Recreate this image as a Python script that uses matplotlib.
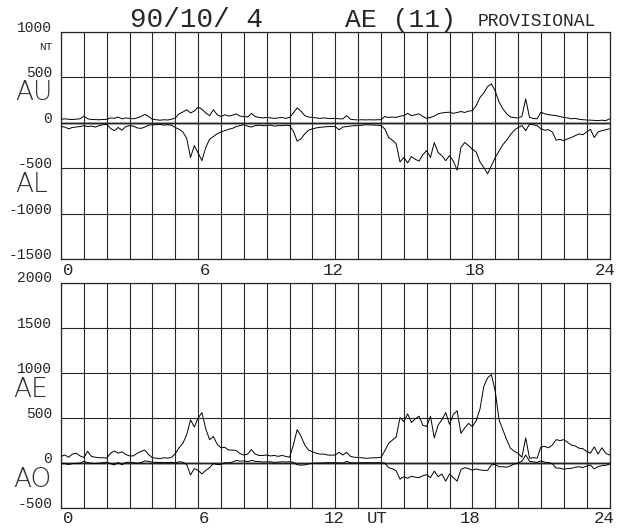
#!/usr/bin/env python
# -*- coding: utf-8 -*-
"""AE index plot (AU/AL and AE/AO), 1990-10-04, provisional."""

import numpy as np
import matplotlib
matplotlib.use('Agg')
import matplotlib.pyplot as plt
import matplotlib.transforms as mtransforms

# --- data, 10-minute samples from 00:00 to 24:00 UT (nT) ---
AU = [40, 45, 40, 38, 42, 45,
      75, 45, 38, 36, 35, 38,
      40, 55, 50, 65, 45, 55,
      50, 45, 55, 70, 95, 70,
      40, 35, 30, 35, 32, 40,
      55, 100, 120, 145, 110, 130,
      175, 150, 110, 80, 145, 90,
      70, 90, 75, 85, 100, 75,
      70, 65, 105, 70, 60, 55,
      60, 55, 50, 55, 60, 50,
      60, 110, 165, 130, 80, 65,
      60, 55, 50, 55, 50, 48,
      50, 45, 45, 80, 40, 35,
      33, 35, 33, 35, 33, 35,
      35, 70, 60, 65, 60, 75,
      80, 105, 80, 90, 100, 70,
      50, 60, 75, 100, 110, 115,
      118, 105, 115, 125, 115, 130,
      135, 190, 280, 330, 400, 430,
      350, 230, 155, 100, 65, 58,
      55, 70, 265, 60, 50, 45,
      118, 100, 90, 85, 80, 70,
      60, 55, 45, 50, 40, 35,
      33, 30, 28, 25, 30, 25,
      45]

AL = [-40, -45, -65, -50, -45, -40,
      -30, -40, -35, -45, -30, -20,
      -15, -60, -85, -50, -80, -40,
      -30, -35, -55, -60, -45, -25,
      -20, -20, -15, -25, -20, -25,
      -50, -70, -100, -170, -380, -250,
      -330, -415, -270, -180, -150, -120,
      -100, -85, -70, -60, -40, -30,
      -20, -35, -45, -30, -25, -30,
      -30, -25, -35, -30, -30, -25,
      -30, -90, -200, -175, -120, -80,
      -65, -55, -48, -45, -40, -40,
      -40, -75, -45, -40, -35, -30,
      -30, -25, -20, -22, -25, -25,
      -30, -65, -160, -190, -230, -430,
      -380, -440, -370, -400, -420, -350,
      -305, -380, -215, -325, -360, -415,
      -360, -420, -520, -270, -215, -250,
      -290, -320, -430, -490, -560, -470,
      -380, -310, -240, -190, -130, -80,
      -50, -30, -85, -15, -20, -30,
      -65, -80, -75, -100, -190, -180,
      -195, -175, -160, -140, -120, -130,
      -100, -70, -160, -100, -85, -75,
      -65]

AE = [75, 90, 65, 100, 110, 80,
      63, 130, 75, 65, 60, 60,
      55, 110, 135, 110, 125, 95,
      80, 80, 110, 130, 145, 95,
      60, 55, 50, 60, 55, 65,
      105, 170, 220, 315, 480, 400,
      500, 560, 380, 260, 295, 210,
      170, 175, 145, 145, 140, 105,
      90, 100, 150, 100, 85, 85,
      90, 80, 85, 75, 85, 75,
      65, 200, 370, 300, 200, 145,
      125, 110, 100, 100, 90, 88,
      90, 120, 90, 120, 75, 65,
      63, 60, 53, 57, 58, 60,
      65, 135, 220, 255, 290, 505,
      460, 545, 450, 490, 520, 420,
      405, 520, 280, 420, 480, 560,
      430, 540, 580, 330, 390, 440,
      405, 470, 600, 850, 945, 980,
      795, 480, 370, 260, 165, 130,
      110, 65, 280, 55, 60, 55,
      180, 185, 170, 200, 260, 250,
      260, 230, 200, 190, 165, 160,
      130, 110, 180, 100, 170, 110,
      90]

AO = [-5, -5, -15, -5, -2, 0,
      20, 5, 0, -5, 0, 5,
      10, -5, -20, 8, -18, 8,
      10, 5, 0, 5, 25, 20,
      10, 8, 8, 5, 6, 8,
      3, 15, 10, -15, -130, -60,
      -80, -120, -80, -50, -5, -15,
      -15, 5, 3, 12, 30, 22,
      25, 15, 30, 20, 18, 12,
      15, 15, 8, 12, 15, 12,
      15, 10, -18, -22, -20, -8,
      -2, 0, 1, 5, 5, 4,
      5, 3, 0, 20, 3, 2,
      2, 5, 6, 6, 4, 5,
      2, 2, -50, -62, -85, -178,
      -150, -168, -145, -155, -160, -140,
      -128, -160, -88, -150, -120, -200,
      -120, -160, -200, -70, -50, -60,
      -78, -65, -75, -80, -80, -20,
      -15, -40, -40, -45, -30, -10,
      2, 20, 90, 20, 15, 8,
      25, 10, 8, -8, -55, -55,
      -68, -60, -58, -45, -40, -48,
      -33, -20, -65, -38, -28, -25,
      -10]

hours = np.arange(len(AU)) / 6.0

upper_yticks = [1000, 500, 0, -500, -1000, -1500]
lower_yticks = [2000, 1500, 1000, 500, 0, -500]
hour_labels = ['0', '6', '12', '18', '24']
upper_label_x = [0.3, 6.3, 11.9, 18.1, 23.8]
lower_label_x = [0.3, 6.25, 11.95, 17.9, 23.75]

MONO = ['Liberation Mono', 'DejaVu Sans Mono']
INK = '#262626'
W, H = 631, 528


def style_panel(ax, ymin, ymax, yticks):
    ax.set_xlim(0, 24)
    ax.set_ylim(ymin, ymax)
    ax.set_xticks(range(25))
    ax.set_yticks(yticks)
    ax.grid(True, color=INK, lw=0.8)
    ax.axhline(0, color='#8a8a8a', lw=1.8, zorder=1.5)
    ax.tick_params(length=0, labelleft=False, labelbottom=False)
    for sp in ax.spines.values():
        sp.set_color(INK)
        sp.set_linewidth(0.9)
    # y labels sit on their grid lines, right-aligned left of the frame
    trans = mtransforms.blended_transform_factory(ax.transAxes, ax.transData)
    for v in yticks:
        ax.text(-0.016, v, f'{v}', transform=trans, ha='right', va='baseline',
                fontsize=10.5, family=MONO, color=INK)


fig = plt.figure(figsize=(W / 100, H / 100), dpi=100)
ax1 = fig.add_axes([61 / W, 1 - 259.3 / H, 548.5 / W, 227.3 / H])
ax2 = fig.add_axes([61 / W, 1 - 508.3 / H, 548.5 / W, 225.8 / H])

style_panel(ax1, -1500, 1000, upper_yticks)
style_panel(ax2, -500, 2000, lower_yticks)

ax1.plot(hours, AU, color='black', lw=0.7, zorder=3)
ax1.plot(hours, AL, color='black', lw=0.7, zorder=3)
ax2.plot(hours, AE, color='black', lw=0.7, zorder=3)
ax2.plot(hours, AO, color='black', lw=0.7, zorder=3)

# hour labels under each panel (baseline a few pixels below the frame)
for ax, xs, yb in ((ax1, upper_label_x, -0.068), (ax2, lower_label_x, -0.064)):
    trans = mtransforms.blended_transform_factory(ax.transData, ax.transAxes)
    for x, lab in zip(xs, hour_labels):
        ax.text(x, yb, lab, transform=trans, ha='center', va='baseline',
                fontsize=12.5, family=MONO, color=INK)
trans = mtransforms.blended_transform_factory(ax2.transData, ax2.transAxes)
ax2.text(13.85, -0.064, 'UT', transform=trans, ha='center', va='baseline',
         fontsize=12.5, family=MONO, color=INK)

# unit under the top value
fig.text(52 / W, 1 - 50 / H, 'NT', ha='right', va='baseline',
         fontsize=8, family=MONO, color=INK)

# index names
for lab, x, y in (('AU', 15, 100), ('AL', 15, 192), ('AE', 13, 397), ('AO', 13, 487)):
    fig.text(x / W, 1 - y / H, lab, ha='left', va='baseline', fontsize=19,
             family='DejaVu Sans', fontweight='light', color='#333333')

# header
fig.text(130 / W, 1 - 27 / H, '90/10/ 4', ha='left', va='baseline',
         fontsize=20, family=MONO, color=INK)
fig.text(345 / W, 1 - 27 / H, 'AE (11)', ha='left', va='baseline',
         fontsize=19, family=MONO, color=INK)
fig.text(478 / W, 1 - 26 / H, 'PROVISIONAL', ha='left', va='baseline',
         fontsize=13, family=MONO, color=INK)

fig.savefig('out.png', dpi=100)
